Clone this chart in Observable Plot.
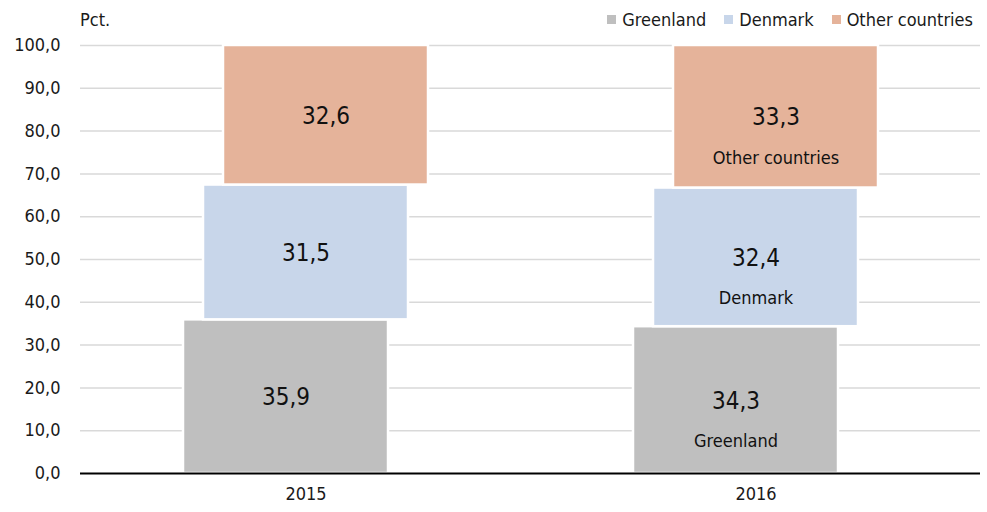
<!DOCTYPE html>
<html>
<head>
<meta charset="utf-8">
<script src="https://cdn.jsdelivr.net/npm/d3@7"></script>
<script src="https://cdn.jsdelivr.net/npm/@observablehq/plot@0.6"></script>
<style>
  body { margin: 0; background: white; }
  #wrap { position: relative; width: 987px; height: 512px; font-family: "Liberation Sans Narrow", "DejaVu Sans Condensed", sans-serif; color: #1a1a1a; }
  #unit { position: absolute; left: 80px; top: 9px; font-size: 18px; }
  #legend { position: absolute; right: 14px; top: 9px; font-size: 18px; display: flex; gap: 18px; }
  #legend span.item { display: flex; align-items: center; }
  #legend span.sw { display: inline-block; width: 9px; height: 9px; margin-right: 6px; }
</style>
</head>
<body>
<div id="wrap">
  <div id="chart"></div>
  <div id="unit">Pct.</div>
  <div id="legend"></div>
</div>
<script>
// ---- data ----
const years = ["2015", "2016"];
const seriesNames = ["Greenland", "Denmark", "Other countries"];
const seriesColors = ["#bfbfbf", "#c8d6ea", "#e5b39a"];
const greenland = [35.9, 34.3];
const denmark = [31.5, 32.4];
const otherCountries = [32.6, 33.3];
const yTicks = [0, 10, 20, 30, 40, 50, 60, 70, 80, 90, 100];
const namedYear = "2016";
const seriesShift = [-20, 0, 20];

// ---- table built from the arrays ----
const seriesValues = [greenland, denmark, otherCountries];
const rows = [];
years.forEach((yr, i) => {
  let acc = 0;
  seriesNames.forEach((s, j) => {
    const v = seriesValues[j][i];
    rows.push({year: yr, series: s, value: v, y1: acc, y2: acc + v, mid: acc + v / 2});
    acc += v;
  });
});

const fmt = d => d.toFixed(1).replace(".", ",");
const FONT = '"Liberation Sans Narrow", "DejaVu Sans Condensed", sans-serif';

const marks = [
  Plot.ruleY(yTicks.filter(t => t > 0), {stroke: "#d9d9d9", strokeWidth: 1.5})
];
seriesNames.forEach((s, j) => {
  const data = rows.filter(r => r.series === s);
  marks.push(Plot.rectY(data, {
    x: "year", y1: "y1", y2: "y2", fill: seriesColors[j],
    stroke: "white", strokeWidth: 2.5, dx: seriesShift[j]
  }));
  marks.push(Plot.text(data, {
    x: "year", y: "mid", text: d => fmt(d.value), dx: seriesShift[j], dy: 1,
    fontSize: 24, fill: "#111"
  }));
  marks.push(Plot.text(data.filter(d => d.year === namedYear), {
    x: "year", y: "mid", text: "series", dx: seriesShift[j], dy: 41,
    fontSize: 18, fill: "#111"
  }));
});
marks.push(Plot.ruleY([0], {stroke: "#000", strokeWidth: 2}));

const chart = Plot.plot({
  width: 987,
  height: 512,
  marginLeft: 80,
  marginRight: 7,
  marginTop: 45,
  marginBottom: 39,
  style: {fontFamily: FONT, fontSize: "18px", color: "#1a1a1a", background: "white"},
  x: {type: "band", domain: years, paddingInner: 0.545, paddingOuter: 0.2725, label: null, tickSize: 0, tickPadding: 14},
  y: {domain: [0, 100], ticks: yTicks, tickFormat: fmt, label: null, tickSize: 0, tickPadding: 20},
  marks
});
document.getElementById("chart").appendChild(chart);

const legend = document.getElementById("legend");
seriesNames.forEach((s, j) => {
  const item = document.createElement("span");
  item.className = "item";
  const sw = document.createElement("span");
  sw.className = "sw";
  sw.style.background = seriesColors[j];
  item.appendChild(sw);
  item.appendChild(document.createTextNode(s));
  legend.appendChild(item);
});
</script>
</body>
</html>
